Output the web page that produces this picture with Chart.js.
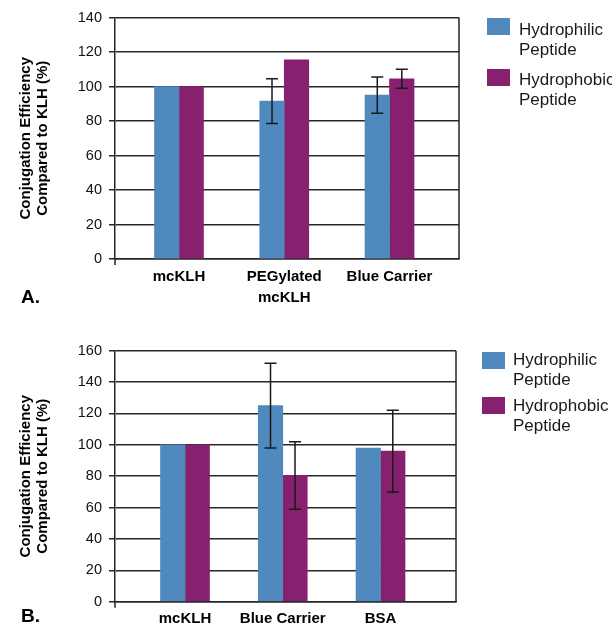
<!DOCTYPE html>
<html>
<head>
<meta charset="utf-8">
<script src="https://cdn.jsdelivr.net/npm/chart.js@4.4.1/dist/chart.umd.min.js"></script>
<style>
  html, body { margin: 0; padding: 0; background: #fff; }
  body { width: 612px; height: 629px; position: relative; overflow: hidden; font-family: "Liberation Sans", Arial, sans-serif; }
  .wrap { position: absolute; left: 0; width: 612px; }
  #wrapA { top: 0; height: 320px; }
  #wrapB { top: 320px; height: 309px; }
  .panel { position: absolute; left: 21px; font-family: "Liberation Sans Narrow", "Liberation Sans", Arial, sans-serif; font-weight: bold; font-size: 19px; line-height: 20px; color: #000; }
  .swatch { position: absolute; width: 23px; height: 17px; }
  .ltext { position: absolute; width: 100px; font-size: 17px; line-height: 20px; color: #1a1a1a; white-space: normal; }
</style>
</head>
<body>
<div id="wrapA" class="wrap"><canvas id="chartA" width="612" height="320"></canvas></div>
<div id="wrapB" class="wrap"><canvas id="chartB" width="612" height="309"></canvas></div>
<div class="panel" style="top:287px;">A.</div>
<div class="panel" style="top:606px;">B.</div>
<div id="legends"></div>
<script>
// ---------- data ----------
const seriesNames = ['Hydrophilic Peptide', 'Hydrophobic Peptide'];
const yAxisTitle = ['Conjugation Efficiency', 'Compared to KLH (%)'];

const categoriesA = ['mcKLH', 'PEGylated\nmcKLH', 'Blue Carrier'];
const hydrophilicA = [100, 91.5, 95];
const hydrophobicA = [100, 115.5, 104.5];
const hydrophilicErrA = [0, 13, 10.5];
const hydrophobicErrA = [0, 0, 5.5];
const yTicksA = [0, 20, 40, 60, 80, 100, 120, 140];

const categoriesB = ['mcKLH', 'Blue Carrier', 'BSA'];
const hydrophilicB = [100, 125, 98];
const hydrophobicB = [100, 80.5, 96];
const hydrophilicErrB = [0, 27, 0];
const hydrophobicErrB = [0, 21.5, 26];
const yTicksB = [0, 20, 40, 60, 80, 100, 120, 140, 160];

// ---------- styles ----------
const colors = ['#4f89be', '#87206f'];
const lineColor = '#262626';
const FONT = '"Liberation Sans", Arial, sans-serif';

const errorBarPlugin = {
  id: 'errorBars',
  afterDatasetsDraw(chart) {
    const ctx = chart.ctx;
    const ys = chart.scales.y;
    chart.data.datasets.forEach((ds, di) => {
      if (!ds.errors) return;
      const meta = chart.getDatasetMeta(di);
      meta.data.forEach((bar, i) => {
        const e = ds.errors[i];
        if (!e) return;
        const v = ds.data[i].y;
        const yt = ys.getPixelForValue(v + e);
        const yb = ys.getPixelForValue(v - e);
        ctx.save();
        ctx.strokeStyle = '#1a1a1a';
        ctx.lineWidth = 1.5;
        ctx.beginPath();
        ctx.moveTo(bar.x, yt); ctx.lineTo(bar.x, yb);
        ctx.moveTo(bar.x - 6, yt); ctx.lineTo(bar.x + 6, yt);
        ctx.moveTo(bar.x - 6, yb); ctx.lineTo(bar.x + 6, yb);
        ctx.stroke();
        ctx.restore();
      });
    });
  }
};

const framePlugin = {
  id: 'frame',
  afterDraw(chart) {
    const {ctx, chartArea: a} = chart;
    ctx.save();
    ctx.strokeStyle = lineColor;
    ctx.lineWidth = 1.5;
    ctx.beginPath();
    ctx.moveTo(a.right, a.top); ctx.lineTo(a.right, a.bottom);
    ctx.moveTo(a.left, a.bottom); ctx.lineTo(a.left, a.bottom + 6);
    ctx.stroke();
    ctx.restore();
  }
};

function makeChart(id, cfg) {
  const cats = cfg.categories;
  const toPoints = arr => arr.map((v, i) => ({x: i, y: v}));
  return new Chart(document.getElementById(id), {
    type: 'bar',
    data: {
      datasets: [
        { label: seriesNames[0], data: toPoints(cfg.s1), errors: cfg.e1, backgroundColor: colors[0], borderWidth: 0, barThickness: 24.5, grouped: true },
        { label: seriesNames[1], data: toPoints(cfg.s2), errors: cfg.e2, backgroundColor: colors[1], borderWidth: 0, barThickness: 24.5, grouped: true }
      ]
    },
    options: {
      responsive: false,
      animation: false,
      layout: { padding: cfg.padding },
      plugins: { legend: { display: false }, tooltip: { enabled: false } },
      scales: {
        x: {
          type: 'linear',
          min: cfg.xmin, max: cfg.xmax,
          offset: false,
          afterBuildTicks: s => { s.ticks = cats.map((_, i) => ({value: i})); },
          afterFit: s => { s.height = cfg.xHeight; },
          ticks: {
            autoSkip: false, maxRotation: 0,
            callback: (v, i) => cats[i] !== undefined ? cats[i].split('\n') : '',
            font: { family: FONT, size: 15, weight: 'bold', lineHeight: 1.4 },
            color: '#000', padding: 7
          },
          grid: { display: false, drawTicks: false, tickLength: 0 },
          border: { display: true, color: lineColor, width: 1.5 }
        },
        y: {
          min: 0, max: cfg.yTicks[cfg.yTicks.length - 1],
          afterBuildTicks: s => { s.ticks = cfg.yTicks.map(v => ({value: v})); },
          afterFit: s => { s.width = 115; },
          ticks: { font: { family: FONT, size: 14.5 }, color: '#111', padding: 7 },
          grid: { color: lineColor, lineWidth: 1.5, tickLength: 6, drawTicks: true },
          border: { display: true, color: lineColor, width: 1.5 },
          title: {
            display: true, text: yAxisTitle, color: '#000',
            font: { family: FONT, size: 15, weight: 'bold', lineHeight: 1.1 },
            padding: { top: 18, bottom: 0 }
          }
        }
      }
    },
    plugins: [errorBarPlugin, framePlugin]
  });
}

makeChart('chartA', {
  categories: categoriesA, s1: hydrophilicA, s2: hydrophobicA, e1: hydrophilicErrA, e2: hydrophobicErrA,
  yTicks: yTicksA, xmin: -0.608, xmax: 2.66, xHeight: 61,
  padding: { top: 17.5, right: 153, bottom: 0, left: 0 }
});
makeChart('chartB', {
  categories: categoriesB, s1: hydrophilicB, s2: hydrophobicB, e1: hydrophilicErrB, e2: hydrophobicErrB,
  yTicks: yTicksB, xmin: -0.716, xmax: 2.772, xHeight: 27.3,
  padding: { top: 30.7, right: 156, bottom: 0, left: 0 }
});

// ---------- HTML legends ----------
function addLegend(swX, textX, swTops, textTops) {
  const host = document.getElementById('legends');
  seriesNames.forEach((name, i) => {
    const sw = document.createElement('div');
    sw.className = 'swatch';
    sw.style.left = swX + 'px'; sw.style.top = swTops[i] + 'px';
    sw.style.background = colors[i];
    host.appendChild(sw);
    const t = document.createElement('div');
    t.className = 'ltext';
    t.style.left = textX + 'px'; t.style.top = textTops[i] + 'px';
    t.textContent = name;
    host.appendChild(t);
  });
}
addLegend(487, 519, [18, 69], [20, 70]);
addLegend(482, 513, [352, 397], [350, 396]);
</script>
</body>
</html>
